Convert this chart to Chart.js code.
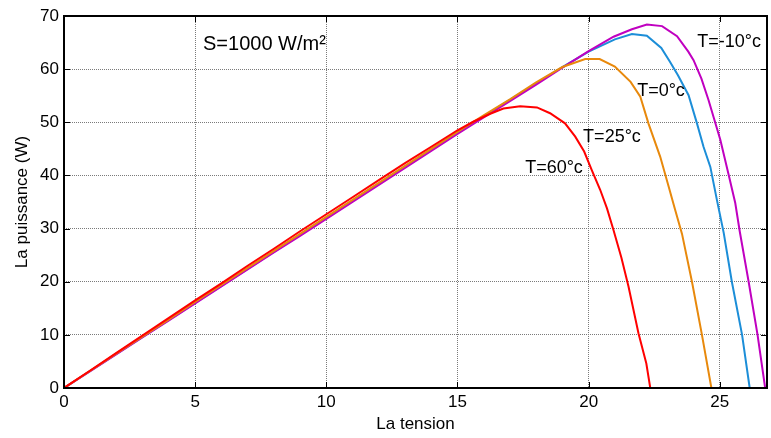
<!DOCTYPE html>
<html>
<head>
<meta charset="utf-8">
<title>Puissance du module PV</title>
<script src="https://cdn.jsdelivr.net/npm/chart.js@4.4.1/dist/chart.umd.min.js"></script>
<style>
  html, body { margin: 0; padding: 0; background: #fff; }
  #box { width: 771px; height: 438px; }
</style>
</head>
<body>
<div id="box"><canvas id="pvPower" width="771" height="438"></canvas></div>
<script>
// Courbes P(V) à S=1000 W/m² pour quatre températures
let volt60 = [0, 1, 2, 3, 4, 5, 6, 7, 8, 9, 10, 11, 12, 13, 14, 15, 15.6, 16.25, 16.75, 17.39, 18.03, 18.53, 19.1, 19.49, 19.83, 20.12, 20.44, 20.7, 20.95, 21.25, 21.52, 21.9, 22.2, 22.35];
let pow60  = [0, 3.3, 6.6, 9.9, 13.2, 16.5, 19.7, 23.0, 26.2, 29.5, 32.7, 35.9, 39.1, 42.3, 45.4, 48.5, 50.1, 51.6, 52.6, 53.0, 52.8, 51.7, 49.8, 47.3, 44.5, 41.0, 37.3, 33.8, 29.7, 24.5, 19.1, 10.3, 4.6, 0];

let volt25 = [0, 1, 2, 3, 4, 5, 6, 7, 8, 9, 10, 11, 12, 13, 14, 15, 16, 17, 18, 19, 19.87, 20.42, 21.0, 21.6, 21.97, 22.28, 22.73, 23.05, 23.3, 23.56, 23.94, 24.32, 24.68];
let pow25  = [0, 3.25, 6.5, 9.7, 12.9, 16.2, 19.4, 22.6, 25.8, 29.0, 32.2, 35.4, 38.6, 41.8, 45.0, 48.2, 51.3, 54.3, 57.5, 60.4, 61.9, 61.9, 60.5, 57.6, 54.8, 49.8, 43.5, 37.9, 33.5, 29.0, 20.0, 10.0, 0];

let volt0 = [0, 1, 2, 3, 4, 5, 6, 7, 8, 9, 10, 11, 12, 13, 14, 15, 16, 17, 18, 19, 20, 21.0, 21.65, 22.22, 22.77, 23.1, 23.4, 23.81, 24.13, 24.38, 24.64, 24.89, 25.15, 25.46, 25.85, 26.14];
let pow0  = [0, 3.2, 6.4, 9.6, 12.8, 16.0, 19.2, 22.4, 25.6, 28.8, 32.0, 35.2, 38.4, 41.6, 44.8, 48.0, 51.1, 54.2, 57.3, 60.4, 63.3, 65.6, 66.6, 66.3, 64.0, 61.4, 58.9, 55.1, 49.8, 45.4, 41.6, 35.4, 29.2, 20.0, 10.0, 0];

let voltM10 = [0, 1, 2, 3, 4, 5, 6, 7, 8, 9, 10, 11, 12, 13, 14, 15, 16, 17, 18, 19, 20, 20.95, 21.65, 22.22, 22.8, 23.37, 23.8, 24.0, 24.3, 24.57, 25.02, 25.34, 25.59, 25.76, 26.1, 26.44, 26.73];
let powM10  = [0, 3.18, 6.36, 9.55, 12.7, 15.9, 19.1, 22.3, 25.5, 28.6, 31.8, 35.0, 38.2, 41.4, 44.6, 47.8, 50.9, 54.0, 57.1, 60.3, 63.4, 66.1, 67.5, 68.4, 68.1, 66.2, 63.3, 61.7, 58.2, 54.2, 46.7, 40.1, 34.8, 29.5, 20.0, 10.0, 0];

let xTicks = [0, 5, 10, 15, 20, 25];
let yTicks = [0, 10, 20, 30, 40, 50, 60, 70];

// textes posés dans le repère des données
let notes = [
    { text: 'S=1000 W/m²', x: 5.3, y: 64.7, size: 20 },
    { text: 'T=-10°c', x: 24.14, y: 65.1, size: 18 },
    { text: 'T=0°c', x: 21.85, y: 55.9, size: 18 },
    { text: 'T=25°c', x: 19.79, y: 47.2, size: 18 },
    { text: 'T=60°c', x: 17.58, y: 41.4, size: 18 }
];

function toPoints(xs, ys) {
    return xs.map(function (v, i) { return { x: v, y: ys[i] }; });
}

// cadre noir, graduations vers l'intérieur et annotations
const framePlugin = {
    id: 'frame',
    afterDraw: function (chart) {
        let ctx = chart.ctx;
        let a = chart.chartArea;
        let sx = chart.scales.x;
        let sy = chart.scales.y;
        ctx.save();
        ctx.strokeStyle = '#000';
        ctx.lineWidth = 1;
        ctx.beginPath();
        xTicks.forEach(function (t) {
            let px = Math.round(sx.getPixelForValue(t)) + 0.5;
            ctx.moveTo(px, a.bottom); ctx.lineTo(px, a.bottom - 6);
            ctx.moveTo(px, a.top); ctx.lineTo(px, a.top + 6);
        });
        yTicks.forEach(function (t) {
            let py = Math.round(sy.getPixelForValue(t)) + 0.5;
            ctx.moveTo(a.left, py); ctx.lineTo(a.left + 6, py);
            ctx.moveTo(a.right, py); ctx.lineTo(a.right - 6, py);
        });
        ctx.stroke();
        ctx.lineWidth = 2;
        ctx.strokeRect(a.left, a.top, a.right - a.left, a.bottom - a.top);

        ctx.fillStyle = '#000';
        ctx.textAlign = 'left';
        ctx.textBaseline = 'middle';
        notes.forEach(function (n) {
            ctx.font = n.size + 'px "Liberation Sans", Arial, sans-serif';
            ctx.fillText(n.text, sx.getPixelForValue(n.x), sy.getPixelForValue(n.y));
        });
        ctx.restore();
    }
};

document.addEventListener('DOMContentLoaded', function () {
    let ctx = document.getElementById('pvPower').getContext('2d');
    let font = { family: '"Liberation Sans", Arial, sans-serif', size: 17 };

    new Chart(ctx, {
        type: 'line',
        data: {
            datasets: [
                { label: 'T=60°c', data: toPoints(volt60, pow60), borderColor: '#FF0000' },
                { label: 'T=25°c', data: toPoints(volt25, pow25), borderColor: '#E8890C' },
                { label: 'T=-10°c', data: toPoints(voltM10, powM10), borderColor: '#C000C0' },
                { label: 'T=0°c', data: toPoints(volt0, pow0), borderColor: '#1C8ED8' }
            ]
        },
        options: {
            responsive: false,
            animation: false,
            devicePixelRatio: 1,
            layout: { padding: { top: 16, right: 4, left: 0, bottom: 0 } },
            elements: {
                line: { borderWidth: 2, tension: 0, fill: false },
                point: { radius: 0 }
            },
            plugins: {
                legend: { display: false },
                tooltip: { enabled: false }
            },
            scales: {
                x: {
                    type: 'linear',
                    min: 0,
                    max: 26.8,
                    afterFit: function (s) { s.height = 50; },
                    ticks: { stepSize: 5, includeBounds: false, color: '#000', font: font, padding: 4, maxRotation: 0 },
                    grid: { color: '#7a7a7a', lineWidth: 1, drawTicks: false },
                    border: { display: false, dash: [1, 1] },
                    title: { display: true, text: 'La tension', color: '#000', font: font, padding: { top: 0, bottom: 3 } }
                },
                y: {
                    min: 0,
                    max: 70,
                    afterFit: function (s) { s.width = 64; },
                    ticks: { stepSize: 10, color: '#000', font: font, padding: 5 },
                    grid: { color: '#7a7a7a', lineWidth: 1, drawTicks: false },
                    border: { display: false, dash: [1, 1] },
                    title: { display: true, text: 'La puissance (W)', color: '#000', font: font, padding: { top: 12, bottom: 0 } }
                }
            }
        },
        plugins: [framePlugin]
    });
});
</script>
</body>
</html>
